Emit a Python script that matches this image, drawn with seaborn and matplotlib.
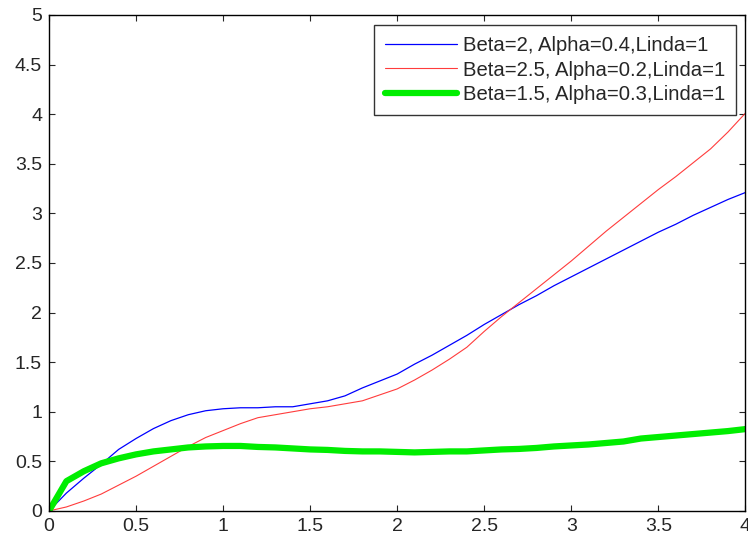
import numpy as np
import pandas as pd
import matplotlib
matplotlib.use("Agg")
import matplotlib.pyplot as plt
import seaborn as sns

# ---- data ----
x = np.round(np.arange(0, 4.01, 0.1), 1)

blue = [0, 0.18, 0.33, 0.47, 0.62, 0.73, 0.83, 0.91, 0.97, 1.01,
        1.03, 1.04, 1.04, 1.05, 1.05, 1.08, 1.11, 1.16, 1.24, 1.31,
        1.38, 1.48, 1.57, 1.67, 1.77, 1.88, 1.98, 2.08, 2.17, 2.27,
        2.36, 2.45, 2.54, 2.63, 2.72, 2.81, 2.89, 2.98, 3.06, 3.14, 3.21]

red = [0, 0.04, 0.10, 0.17, 0.26, 0.35, 0.45, 0.55, 0.65, 0.74,
       0.81, 0.88, 0.94, 0.97, 1.00, 1.03, 1.05, 1.08, 1.11, 1.17,
       1.23, 1.32, 1.42, 1.53, 1.65, 1.81, 1.96, 2.10, 2.24, 2.38,
       2.52, 2.67, 2.82, 2.96, 3.10, 3.24, 3.37, 3.51, 3.65, 3.82, 4.01]

green = [0, 0.30, 0.40, 0.48, 0.53, 0.57, 0.60, 0.62, 0.64, 0.65,
         0.655, 0.655, 0.645, 0.64, 0.63, 0.62, 0.615, 0.605, 0.60, 0.60,
         0.595, 0.59, 0.595, 0.60, 0.60, 0.61, 0.62, 0.625, 0.635, 0.65,
         0.66, 0.67, 0.685, 0.70, 0.73, 0.745, 0.76, 0.775, 0.79, 0.805, 0.825]

labels = ["Beta=2, Alpha=0.4,Linda=1",
          "Beta=2.5, Alpha=0.2,Linda=1",
          "Beta=1.5, Alpha=0.3,Linda=1"]

# ---- style ----
sns.set_style("ticks")
plt.rcParams["font.family"] = ["Liberation Sans", "DejaVu Sans"]

fig = plt.figure(figsize=(7.48, 5.35), dpi=100)
ax = fig.add_axes([0.0655, 0.045, 0.931, 0.927])

sns.lineplot(x=x, y=blue, color="#0000ff", linewidth=0.9, label=labels[0], ax=ax)
sns.lineplot(x=x, y=red, color="#ff3c3c", linewidth=0.8, label=labels[1], ax=ax)
sns.lineplot(x=x, y=green, color="#00ee00", linewidth=4.5, label=labels[2], ax=ax)

ax.set_xlim(0, 4)
ax.set_ylim(0, 5)
ax.set_xticks(np.arange(0, 4.01, 0.5))
ax.set_yticks(np.arange(0, 5.01, 0.5))
ax.set_xticklabels(["0", "0.5", "1", "1.5", "2", "2.5", "3", "3.5", "4"])
ax.set_yticklabels(["0", "0.5", "1", "1.5", "2", "2.5", "3", "3.5", "4", "4.5", "5"])
ax.tick_params(direction="in", top=True, right=True, length=4, width=0.8,
               labelsize=14, pad=5)
for s in ax.spines.values():
    s.set_linewidth(1.0)
    s.set_color("black")

leg = ax.legend(loc="upper right", bbox_to_anchor=(0.987, 0.98), fontsize=14.6,
                frameon=True, fancybox=False, edgecolor="black",
                handlelength=3.55, borderpad=0.55, labelspacing=0.27,
                handletextpad=0.3, borderaxespad=0)
leg.get_frame().set_linewidth(1.0)

fig.savefig("out.png", dpi=100)
